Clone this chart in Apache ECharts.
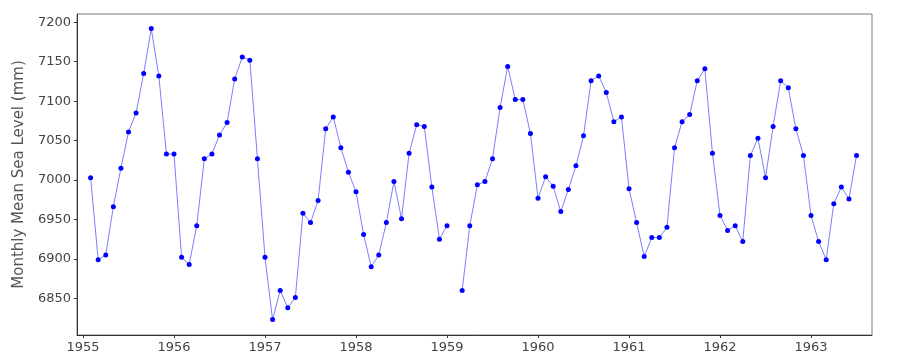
<!DOCTYPE html>
<html>
<head>
<meta charset="utf-8">
<script src="https://cdn.jsdelivr.net/npm/echarts@6/dist/echarts.min.js"></script>
<style>html,body{margin:0;padding:0;background:#fff}#c{width:900px;height:360px}</style>
</head>
<body>
<div id="c"></div>
<script>
// Monthly mean sea level (mm), Feb 1955 .. Jul 1963 (Feb 1959 missing)
const startYear = 1955;
const startMonth = 2; // February
const seaLevel = [
  7003, 6899, 6905, 6966, 7015, 7061, 7085, 7135, 7192, 7132, 7033,
  7033, 6902, 6893, 6942, 7027, 7033, 7057, 7073, 7128, 7156, 7152, 7027, 6902,
  6823, 6860, 6838, 6851, 6958, 6946, 6974, 7065, 7080, 7041, 7010, 6985,
  6931, 6890, 6905, 6946, 6998, 6951, 7034, 7070, 7068, 6991, 6925, 6942,
  null, 6860, 6942, 6994, 6998, 7027, 7092, 7144, 7102, 7102, 7059, 6977,
  7004, 6992, 6960, 6988, 7018, 7056, 7126, 7132, 7111, 7074, 7080, 6989,
  6946, 6903, 6927, 6927, 6940, 7041, 7074, 7083, 7126, 7141, 7034, 6955,
  6936, 6942, 6922, 7031, 7053, 7003, 7068, 7126, 7117, 7065, 7031, 6955,
  6922, 6899, 6970, 6991, 6976, 7031
];
const yearTicks = [1955, 1956, 1957, 1958, 1959, 1960, 1961, 1962, 1963];
const levelTicks = [6850, 6900, 6950, 7000, 7050, 7100, 7150, 7200];
const yTitle = 'Monthly Mean Sea Level (mm)';

const points = seaLevel.map((v, i) => [startYear + (startMonth - 1 + i) / 12, v === null ? '-' : v]);

const chart = echarts.init(document.getElementById('c'), null, {renderer: 'canvas'});
const font = 'DejaVu Sans';
chart.setOption({
  animation: false,
  backgroundColor: '#fff',
  grid: {left: 77, top: 14, right: 28, bottom: 25, show: true, borderColor: '#7a7a7a', borderWidth: 1, backgroundColor: 'transparent'},
  xAxis: {
    type: 'value', min: 1954.934, max: 1963.67,
    axisLine: {show: true, lineStyle: {color: '#333', width: 1}},
    axisTick: {show: true, length: 3, lineStyle: {color: '#333'}, customValues: yearTicks},
    axisLabel: {customValues: yearTicks, formatter: v => String(Math.round(v)), color: '#444', fontFamily: font, fontSize: 13, margin: 6},
    splitLine: {show: false}
  },
  yAxis: {
    type: 'value', min: 6803.5, max: 7210.5,
    name: yTitle, nameLocation: 'middle', nameGap: 50, nameRotate: 90,
    nameTextStyle: {color: '#555', fontFamily: font, fontSize: 15},
    axisLine: {show: true, lineStyle: {color: '#333', width: 1}},
    axisTick: {show: true, length: 3, lineStyle: {color: '#333'}, customValues: levelTicks},
    axisLabel: {customValues: levelTicks, formatter: v => String(Math.round(v)), color: '#444', fontFamily: font, fontSize: 13, margin: 6},
    splitLine: {show: false}
  },
  series: [{
    type: 'line',
    data: points,
    connectNulls: false,
    symbol: 'circle', symbolSize: 5, showSymbol: true,
    lineStyle: {color: 'rgba(40,40,255,0.6)', width: 1},
    itemStyle: {color: '#0000ff'}
  }]
});
</script>
</body>
</html>
